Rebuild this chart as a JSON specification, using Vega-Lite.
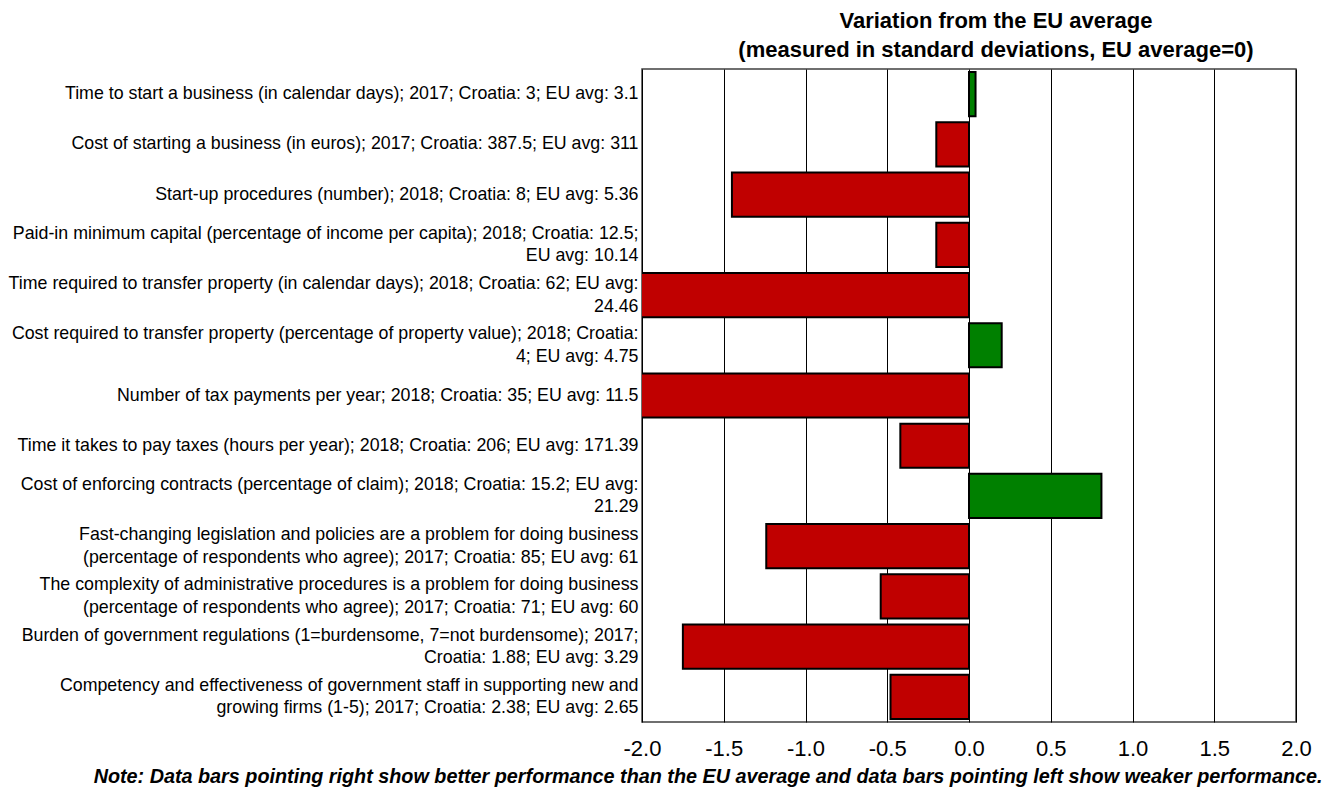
{
  "$schema": "https://vega.github.io/schema/vega-lite/v6.json",
  "autosize": {"type": "none"},
  "width": 654,
  "height": 653,
  "padding": {"left": 642, "top": 69, "right": 34, "bottom": 65},
  "background": "white",
  "title": {
    "text": ["Variation from the EU average", "(measured in standard deviations, EU average=0)"],
    "font": "Liberation Sans",
    "fontSize": 22,
    "fontWeight": "bold",
    "color": "#000000",
    "anchor": "middle",
    "frame": "group",
    "offset": 7,
    "lineHeight": 29,
    "dx": 27
  },
  "config": {
    "view": {"stroke": "#404040", "strokeWidth": 1.5},
    "font": "Liberation Sans"
  },
  "data": {
    "values": [
      {"indicator": "Time to start a business (in calendar days); 2017; Croatia: 3; EU avg: 3.1", "value": 0.04},
      {"indicator": "Cost of starting a business (in euros); 2017; Croatia: 387.5; EU avg: 311", "value": -0.2},
      {"indicator": "Start-up procedures (number); 2018; Croatia: 8; EU avg: 5.36", "value": -1.45},
      {"indicator": "Paid-in minimum capital (percentage of income per capita); 2018; Croatia: 12.5;|EU avg: 10.14", "value": -0.2},
      {"indicator": "Time required to transfer property (in calendar days); 2018; Croatia: 62; EU avg:|24.46", "value": -2.5},
      {"indicator": "Cost required to transfer property (percentage of property value); 2018; Croatia:|4; EU avg: 4.75", "value": 0.2},
      {"indicator": "Number of tax payments per year; 2018; Croatia: 35; EU avg: 11.5", "value": -2.5},
      {"indicator": "Time it takes to pay taxes (hours per year); 2018; Croatia: 206; EU avg: 171.39", "value": -0.42},
      {"indicator": "Cost of enforcing contracts (percentage of claim); 2018; Croatia: 15.2; EU avg:|21.29", "value": 0.81},
      {"indicator": "Fast-changing legislation and policies are a problem for doing business|(percentage of respondents who agree); 2017; Croatia: 85; EU avg: 61", "value": -1.24},
      {"indicator": "The complexity of administrative procedures is a problem for doing business|(percentage of respondents who agree); 2017; Croatia: 71; EU avg: 60", "value": -0.54},
      {"indicator": "Burden of government regulations (1=burdensome, 7=not burdensome); 2017;|Croatia: 1.88; EU avg: 3.29", "value": -1.75},
      {"indicator": "Competency and effectiveness of government staff in supporting new and|growing firms (1-5); 2017; Croatia: 2.38; EU avg: 2.65", "value": -0.48}
    ]
  },
  "mark": {"type": "bar", "stroke": "#000000", "strokeWidth": 2, "clip": true},
  "encoding": {
    "y": {
      "field": "indicator",
      "type": "nominal",
      "sort": null,
      "scale": {"paddingInner": 0.12, "paddingOuter": 0.06},
      "axis": {
        "title": null,
        "domain": false,
        "ticks": false,
        "labelExpr": "split(datum.label, '|')",
        "labelLimit": 700,
        "labelFontSize": 17.8,
        "labelColor": "#000000",
        "labelPadding": 4,
        "labelLineHeight": 22.5,
        "labelAlign": "right",
        "labelBaseline": "middle",
        "labelOffset": {"condition": {"test": "indexof(datum.label, '|') >= 0", "value": -11}, "value": 0}
      }
    },
    "x": {
      "field": "value",
      "type": "quantitative",
      "scale": {"domain": [-2, 2], "nice": false, "zero": false},
      "axis": {
        "values": [-2, -1.5, -1, -0.5, 0, 0.5, 1, 1.5, 2],
        "labelExpr": "datum.value < 0 ? '-' + format(-datum.value, '.1f') : format(datum.value, '.1f')",
        "grid": true,
        "gridColor": "#000000",
        "gridOpacity": 1,
        "gridWidth": 1,
        "domain": false,
        "ticks": false,
        "labelFontSize": 22,
        "labelColor": "#000000",
        "labelPadding": 16,
        "labelFlush": false,
        "title": "Note: Data bars pointing right show better performance than the EU average and data bars pointing left show weaker performance.",
        "titleFontSize": 19.8,
        "titleFontWeight": "bold",
        "titleFontStyle": "italic",
        "titleColor": "#000000",
        "titleAnchor": "end",
        "titleAlign": "right",
        "titleX": 680,
        "titlePadding": 7
      }
    },
    "color": {
      "condition": {"test": "datum.value > 0", "value": "#008000"},
      "value": "#C00000"
    }
  }
}
